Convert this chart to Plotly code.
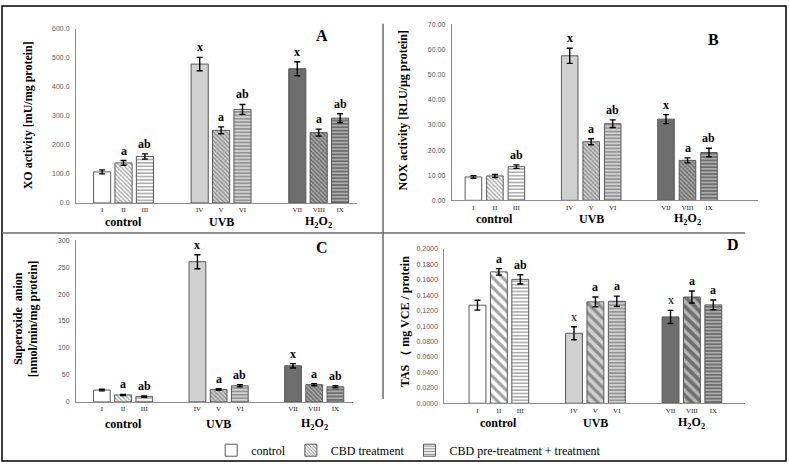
import plotly.graph_objects as go

W, H = 789, 467

groups = ["control", "UVB", "H<sub>2</sub>O<sub>2</sub>"]
series_names = ["control", "CBD treatment", "CBD pre-treatment + treatment"]
roman = ["I", "II", "III", "IV", "V", "VI", "VII", "VIII", "IX"]

# Panel A - XO activity
xo_mean = [107, 138, 160, 478, 250, 322, 462, 242, 292]
xo_err = [7, 8, 9, 23, 12, 17, 24, 12, 15]
xo_sig = ["", "a", "ab", "x", "a", "ab", "x", "a", "ab"]

# Panel B - NOX activity
nox_mean = [9.3, 9.7, 13.4, 57.5, 23.3, 30.5, 32.3, 15.9, 19.0]
nox_err = [0.5, 0.6, 0.7, 3.0, 1.2, 1.5, 1.8, 1.0, 1.7]
nox_sig = ["", "", "ab", "x", "a", "ab", "x", "a", "ab"]

# Panel C - Superoxide anion
sox_mean = [22, 13, 10, 260, 23, 30, 67, 32, 28]
sox_err = [1.5, 1.0, 1.2, 13, 1.5, 2, 4, 2, 2]
sox_sig = ["", "a", "ab", "x", "a", "ab", "x", "a", "ab"]

# Panel D - TAS
tas_mean = [0.1271, 0.1703, 0.1606, 0.0907, 0.1314, 0.1322, 0.1119, 0.1377, 0.1275]
tas_err = [0.0064, 0.0042, 0.0060, 0.0085, 0.0064, 0.0066, 0.0085, 0.0078, 0.0064]
tas_sig = ["", "a", "ab", "x", "a", "a", "x", "a", "a"]

SERIF = "Liberation Serif"
SANS = "Liberation Sans"

def px(x):
    return x / W

def py(y):
    return 1 - y / H

group_bg = ["#ffffff", "#d0d0d0", "#6e6e6e"]

panels = [
    dict(letter="A", mean=xo_mean, err=xo_err, sig=xo_sig,
         xdom=(76, 357), ydom=(25, 202), G=4.56, xr=(-2.22, 10.91), bw=0.8,
         ymax=600, dtick=100, fmt=".1f",
         title="<b>XO activity [mU/mg protein]</b>", tpos=(28, 113),
         gy=221, lpos=(322, 32), hatch=(3, 0.42, "#333333")),
    dict(letter="B", mean=nox_mean, err=nox_err, sig=nox_sig,
         xdom=(451.7, 758), ydom=(20.7, 199.3), G=4.48, xr=(-2.01, 12.24), bw=0.77,
         ymax=70, dtick=10, fmt=".2f",
         title="<b>NOX activity [RLU/µg protein]</b>", tpos=(403, 108),
         gy=218, lpos=(713, 36), hatch=(3, 0.42, "#333333")),
    dict(letter="C", mean=sox_mean, err=sox_err, sig=sox_sig,
         xdom=(76, 353), ydom=(239.7, 404), G=4.51, xr=(-2.22, 10.85), bw=0.79,
         ymax=300, dtick=50, fmt="d",
         title="<b>Superoxide  anion<br>[nmol/min/mg protein]</b>", tpos=(26, 320),
         gy=426, lpos=(322, 247), hatch=(3, 0.42, "#333333")),
    dict(letter="D", mean=tas_mean, err=tas_err, sig=tas_sig,
         xdom=(444.3, 745), ydom=(248.7, 405.3), G=4.51, xr=(-2.55, 11.5), bw=0.79,
         ymax=0.2, dtick=0.02, fmt=".4f",
         title="<b>TAS （ mg VCE / protein</b>", tpos=(405, 322),
         gy=425, lpos=(733, 244), hatch=(7, 0.45, "#000000")),
]

fig = go.Figure()
annotations = []
layout_axes = {}

for i, p in enumerate(panels, start=1):
    xa = "x" if i == 1 else f"x{i}"
    ya = "y" if i == 1 else f"y{i}"
    positions = []
    for g in range(3):
        for s in range(3):
            positions.append(g * p["G"] + (s - 1))
    for s in range(3):
        idx = [g * 3 + s for g in range(3)]
        xs = [positions[k] for k in idx]
        ys = [p["mean"][k] for k in idx]
        es = [p["err"][k] for k in idx]
        if s == 0:
            marker = dict(color=group_bg, line=dict(color="#595959", width=1))
        elif s == 1:
            hc = p["hatch"][2]
            marker = dict(color=group_bg, line=dict(color="#595959", width=1),
                          pattern=dict(shape="\\", bgcolor=group_bg,
                                       fgcolor=[hc, hc, "#111111"],
                                       size=p["hatch"][0], solidity=p["hatch"][1]))
        else:
            mid = "#ffffff" if p["letter"] != "D" else "#1a1a1a"
            marker = dict(color=group_bg, line=dict(color="#595959", width=1),
                          pattern=dict(shape="-", bgcolor=group_bg,
                                       fgcolor=["#1a1a1a", mid, "#1a1a1a"],
                                       size=3.4, solidity=0.42))
        fig.add_trace(go.Bar(
            x=xs, y=ys, width=p["bw"], marker=marker, name=series_names[s],
            showlegend=(i == 1), legendgroup=series_names[s],
            error_y=dict(type="data", array=es, color="black", thickness=1.4, width=3),
            xaxis=xa, yaxis=ya, hoverinfo="skip",
        ))
    # significance letters
    for k in range(9):
        if p["sig"][k]:
            txt = p["sig"][k]
            bold = not (p["letter"] == "D" and txt == "x")
            annotations.append(dict(
                x=positions[k], y=p["mean"][k] + p["err"][k], xref=xa, yref=ya,
                text=f"<b>{txt}</b>" if bold else txt, showarrow=False,
                yanchor="bottom", yshift=1,
                font=dict(family=SERIF, size=12, color="black")))
    # group labels
    for g in range(3):
        annotations.append(dict(
            x=g * p["G"], y=py(p["gy"]), xref=xa, yref="paper",
            text=f"<b>{groups[g]}</b>", showarrow=False,
            xanchor="center", yanchor="middle",
            font=dict(family=SERIF, size=12, color="black")))
    # axis title
    annotations.append(dict(
        x=px(p["tpos"][0]), y=py(p["tpos"][1]), xref="paper", yref="paper",
        text=p["title"], textangle=-90, showarrow=False,
        xanchor="center", yanchor="middle",
        font=dict(family=SERIF, size=12, color="black")))
    # panel letter
    annotations.append(dict(
        x=px(p["lpos"][0]), y=py(p["lpos"][1]), xref="paper", yref="paper",
        text=f"<b>{p['letter']}</b>", showarrow=False,
        xanchor="center", yanchor="middle",
        font=dict(family=SERIF, size=16, color="black")))

    xkey = "xaxis" if i == 1 else f"xaxis{i}"
    ykey = "yaxis" if i == 1 else f"yaxis{i}"
    layout_axes[xkey] = dict(
        domain=[px(p["xdom"][0]), px(p["xdom"][1])], range=list(p["xr"]),
        anchor=ya, showline=True, linecolor="#8c8c8c", linewidth=1,
        tickmode="array", tickvals=positions, ticktext=roman, ticks="", ticklen=0,
        ticklabelstandoff=0,
        tickfont=dict(family=SERIF, size=7, color="#222222"),
        showgrid=False, zeroline=False, fixedrange=True)
    layout_axes[ykey] = dict(
        domain=[py(p["ydom"][1]), py(p["ydom"][0])], range=[0, p["ymax"]],
        anchor=xa, showline=True, linecolor="#8c8c8c", linewidth=1,
        tick0=0, dtick=p["dtick"], tickformat=p["fmt"], ticks="", ticklen=0,
        ticklabelstandoff=4,
        tickfont=dict(family=SANS, size=7, color="#595959"),
        showgrid=False, zeroline=False, fixedrange=True)

shapes = [
    dict(type="rect", xref="paper", yref="paper", x0=px(2), x1=px(786), y0=py(464), y1=py(2),
         line=dict(color="black", width=1.5)),
    dict(type="line", xref="paper", yref="paper", x0=px(383), x1=px(383), y0=py(20), y1=py(401),
         line=dict(color="#6b6b6b", width=1.5)),
    dict(type="line", xref="paper", yref="paper", x0=px(2), x1=px(745), y0=py(232.5), y1=py(232.5),
         line=dict(color="#6b6b6b", width=1.5)),
]

fig.update_layout(
    width=W, height=H, margin=dict(l=0, r=0, t=0, b=0),
    paper_bgcolor="white", plot_bgcolor="white",
    barmode="overlay", showlegend=True,
    legend=dict(orientation="h", x=0.518, xanchor="center", y=py(453), yanchor="middle",
                font=dict(family=SERIF, size=12, color="black"),
                bgcolor="rgba(0,0,0,0)", itemwidth=30, traceorder="normal"),
    annotations=annotations, shapes=shapes,
    **layout_axes,
)

fig.write_html("out.html", config={"displayModeBar": False},
               post_script="document.body.style.margin='0';document.body.style.padding='0';")
